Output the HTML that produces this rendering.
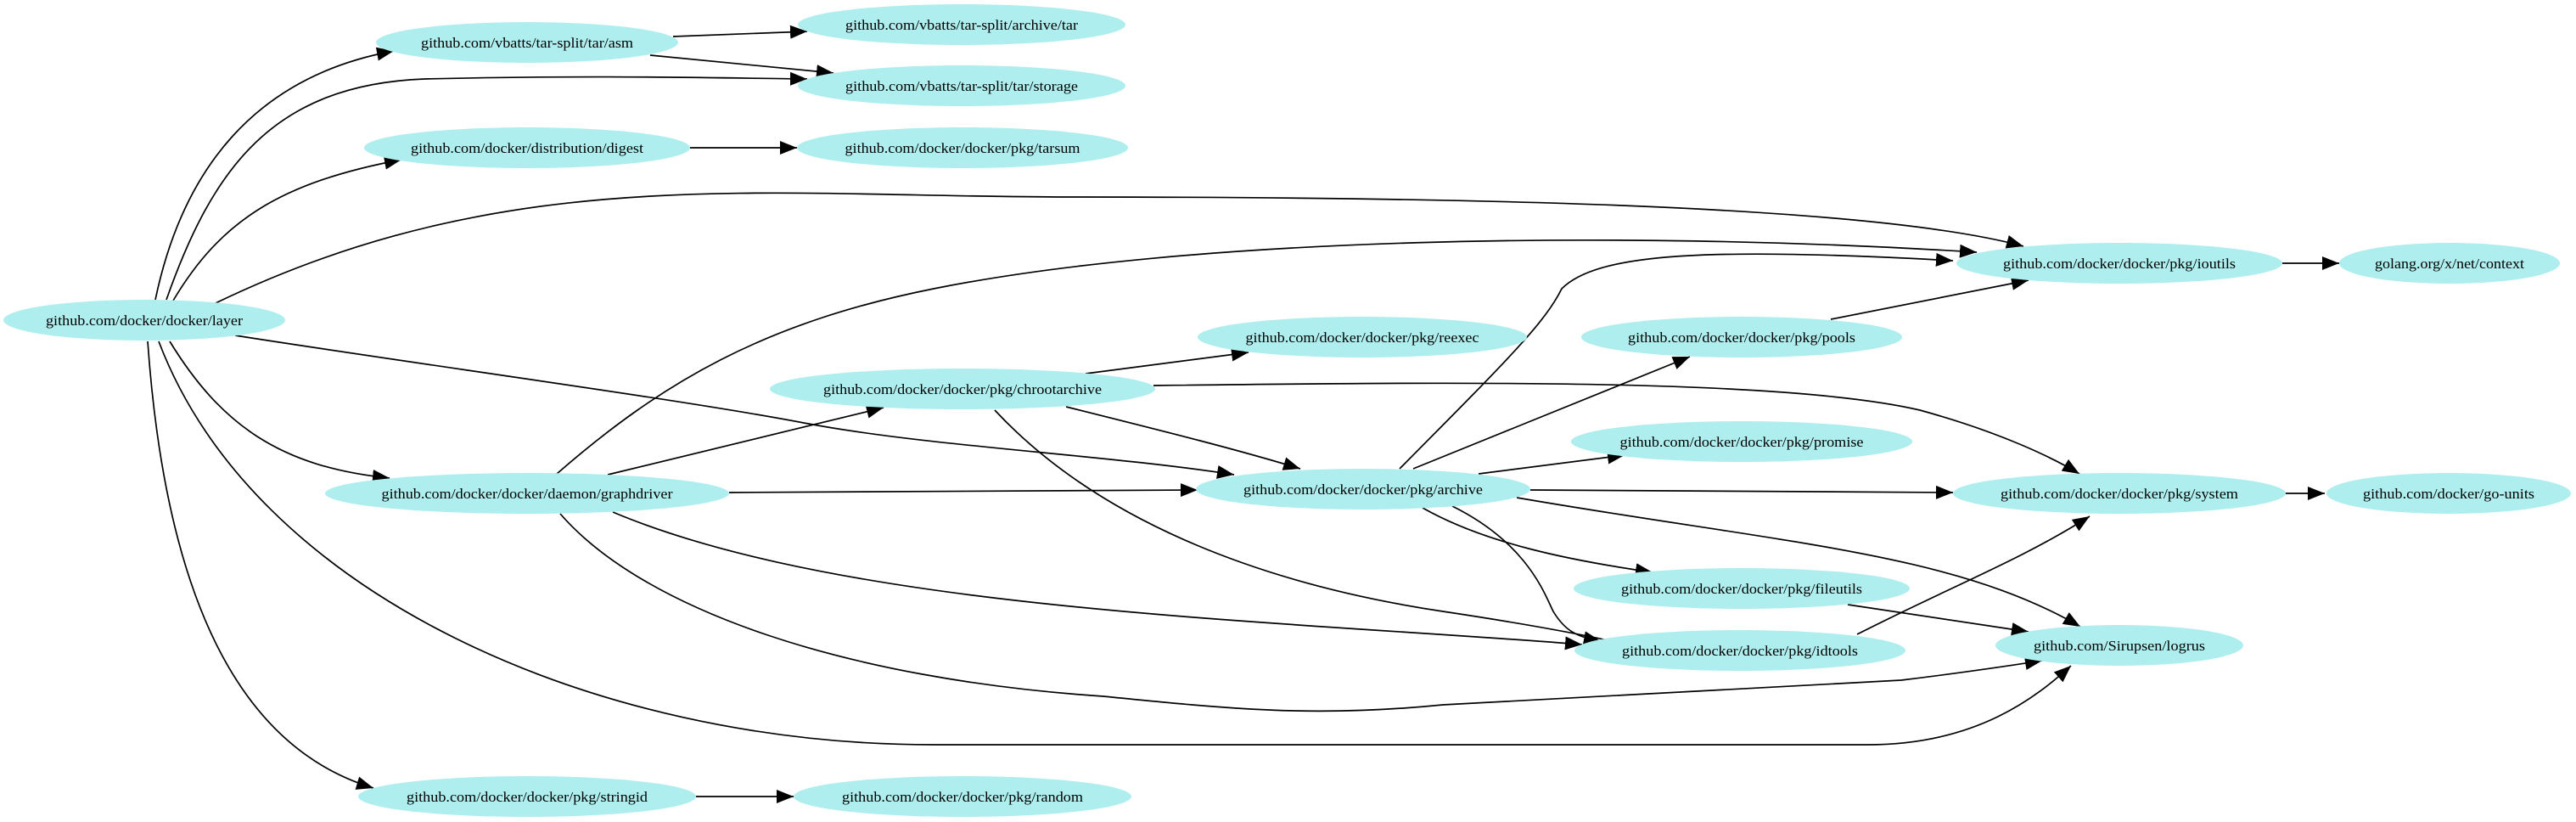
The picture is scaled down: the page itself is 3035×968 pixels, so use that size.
<!DOCTYPE html>
<html><head><meta charset="utf-8"><style>
html,body{margin:0;padding:0;background:#fff;}
svg{display:block;}
text{font-family:"Liberation Serif",serif;font-size:17px;fill:#000;}
</style></head><body>
<svg width="3035" height="968" viewBox="0 0 3035 968" xmlns="http://www.w3.org/2000/svg">
<defs>
<marker id="a" markerUnits="userSpaceOnUse" markerWidth="22" markerHeight="16" refX="20" refY="8" orient="auto">
<path d="M0,0 L20,8 L0,16 Z" fill="#000"/>
</marker>
</defs>
<g fill="none" stroke="#000" stroke-width="1.7" marker-end="url(#a)">
<path d="M183,353 C 215,200 300,90 464,60"/>
<path d="M196,353 C 250,200 320,100 500,93 C 700,88 850,92 951,93"/>
<path d="M204,354 C 260,260 330,215 473,188"/>
<path d="M254,357 C 600,190 900,232 1258,232 C 1700,232 2200,240 2384,290"/>
<path d="M277,395 C 500,430 800,470 947,498 S 1300,535 1454,559"/>
<path d="M200,402 C 260,500 330,550 459,563"/>
<path d="M187,402 C 300,700 700,877 1100,877 L 2200,877 C 2330,877 2400,820 2440,784"/>
<path d="M174,402 C 195,700 280,880 440,928"/>
<path d="M793,43 L951,37"/>
<path d="M766,65 L982,86"/>
<path d="M813,174 L939,174"/>
<path d="M820,938 L935,938"/>
<path d="M716,559 L1041,480"/>
<path d="M656,558 C 780,450 900,380 1100,340 C 1400,280 1900,270 2329,297"/>
<path d="M859,580 L1411,577"/>
<path d="M722,603 C 1000,720 1500,730 1864,759"/>
<path d="M660,605 C 760,720 1000,800 1300,820 C 1450,835 1550,845 1700,830 L 2240,801 C 2330,790 2380,782 2406,778"/>
<path d="M1279,440 L1471,415"/>
<path d="M1256,479 C 1380,510 1460,530 1532,552"/>
<path d="M1359,454 C 1700,450 2100,445 2262,483 C 2360,510 2420,540 2450,558"/>
<path d="M1172,483 C 1300,620 1500,690 1700,720 C 1800,735 1880,750 1930,762"/>
<path d="M1649,552 C 1780,420 1820,380 1840,340 C 1880,300 2000,290 2301,307"/>
<path d="M1665,552 L1991,420"/>
<path d="M2157,376 L2390,330"/>
<path d="M1742,558 L1914,536"/>
<path d="M1803,577 L2301,580"/>
<path d="M1676,598 C 1750,640 1850,660 1947,674"/>
<path d="M1711,596 C 1800,640 1820,700 1830,720 C 1845,745 1860,750 1886,755"/>
<path d="M1787,586 C 2100,640 2300,650 2451,738"/>
<path d="M2692,581 L2739,581"/>
<path d="M2689,310 L2756,310"/>
<path d="M2177,712 L2390,744"/>
<path d="M2188,747 C 2300,690 2380,660 2462,608"/>
</g>
<g fill="#afeeee">
<ellipse cx="170" cy="377" rx="166" ry="24"/>
<ellipse cx="621" cy="50" rx="178" ry="24"/>
<ellipse cx="1133" cy="29" rx="193" ry="24"/>
<ellipse cx="1133" cy="101" rx="193" ry="24"/>
<ellipse cx="621" cy="174" rx="192" ry="24"/>
<ellipse cx="1134" cy="174" rx="195" ry="24"/>
<ellipse cx="1134" cy="458" rx="227" ry="24"/>
<ellipse cx="2497" cy="310" rx="192" ry="24"/>
<ellipse cx="2886" cy="310" rx="130" ry="24"/>
<ellipse cx="1605" cy="397" rx="194" ry="24"/>
<ellipse cx="2052" cy="397" rx="189" ry="24"/>
<ellipse cx="2052" cy="520" rx="201" ry="24"/>
<ellipse cx="1606" cy="576" rx="197" ry="24"/>
<ellipse cx="2497" cy="581" rx="196" ry="24"/>
<ellipse cx="2885" cy="581" rx="144" ry="24"/>
<ellipse cx="2052" cy="693" rx="198" ry="24"/>
<ellipse cx="2050" cy="766" rx="195" ry="24"/>
<ellipse cx="2497" cy="760" rx="146" ry="24"/>
<ellipse cx="621" cy="581" rx="238" ry="24"/>
<ellipse cx="621" cy="938" rx="199" ry="24"/>
<ellipse cx="1134" cy="938" rx="199" ry="24"/>
</g>
<g text-anchor="middle">
<text x="170" y="383" textLength="232" lengthAdjust="spacingAndGlyphs">github.com/docker/docker/layer</text>
<text x="621" y="56" textLength="250" lengthAdjust="spacingAndGlyphs">github.com/vbatts/tar-split/tar/asm</text>
<text x="1133" y="35" textLength="274" lengthAdjust="spacingAndGlyphs">github.com/vbatts/tar-split/archive/tar</text>
<text x="1133" y="107" textLength="274" lengthAdjust="spacingAndGlyphs">github.com/vbatts/tar-split/tar/storage</text>
<text x="621" y="180" textLength="274" lengthAdjust="spacingAndGlyphs">github.com/docker/distribution/digest</text>
<text x="1134" y="180" textLength="277" lengthAdjust="spacingAndGlyphs">github.com/docker/docker/pkg/tarsum</text>
<text x="1134" y="464" textLength="328" lengthAdjust="spacingAndGlyphs">github.com/docker/docker/pkg/chrootarchive</text>
<text x="2497" y="316" textLength="274" lengthAdjust="spacingAndGlyphs">github.com/docker/docker/pkg/ioutils</text>
<text x="2886" y="316" textLength="176" lengthAdjust="spacingAndGlyphs">golang.org/x/net/context</text>
<text x="1605" y="403" textLength="275" lengthAdjust="spacingAndGlyphs">github.com/docker/docker/pkg/reexec</text>
<text x="2052" y="403" textLength="268" lengthAdjust="spacingAndGlyphs">github.com/docker/docker/pkg/pools</text>
<text x="2052" y="526" textLength="287" lengthAdjust="spacingAndGlyphs">github.com/docker/docker/pkg/promise</text>
<text x="1606" y="582" textLength="282" lengthAdjust="spacingAndGlyphs">github.com/docker/docker/pkg/archive</text>
<text x="2497" y="587" textLength="280" lengthAdjust="spacingAndGlyphs">github.com/docker/docker/pkg/system</text>
<text x="2885" y="587" textLength="202" lengthAdjust="spacingAndGlyphs">github.com/docker/go-units</text>
<text x="2052" y="699" textLength="284" lengthAdjust="spacingAndGlyphs">github.com/docker/docker/pkg/fileutils</text>
<text x="2050" y="772" textLength="278" lengthAdjust="spacingAndGlyphs">github.com/docker/docker/pkg/idtools</text>
<text x="2497" y="766" textLength="202" lengthAdjust="spacingAndGlyphs">github.com/Sirupsen/logrus</text>
<text x="621" y="587" textLength="343" lengthAdjust="spacingAndGlyphs">github.com/docker/docker/daemon/graphdriver</text>
<text x="621" y="944" textLength="284" lengthAdjust="spacingAndGlyphs">github.com/docker/docker/pkg/stringid</text>
<text x="1134" y="944" textLength="284" lengthAdjust="spacingAndGlyphs">github.com/docker/docker/pkg/random</text>
</g>
</svg>
</body></html>
